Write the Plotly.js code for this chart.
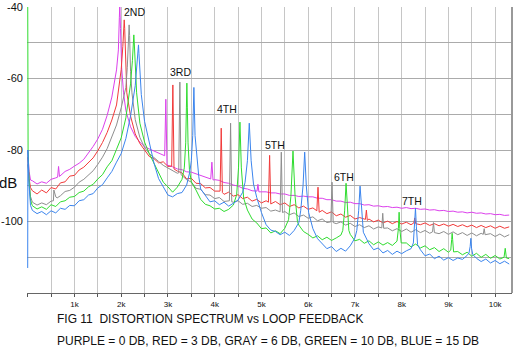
<!DOCTYPE html>
<html><head><meta charset="utf-8">
<script src="https://cdn.plot.ly/plotly-3.0.1.min.js"></script>
<style>html,body{margin:0;padding:0;background:#fff}#chart{width:520px;height:356px}</style>
</head><body><div id="chart"></div>
<script>
// Frequency grid (kHz) shared by all five spectra
const freqKHz = [
0.1,0.2,0.3,0.4,0.5,0.6,0.7,0.8,0.9,1.0,
1.1,1.2,1.3,1.4,1.5,1.6,1.7,1.8,1.9,2.0,
2.1,2.2,2.3,2.4,2.5,2.6,2.7,2.8,2.9,3.0,
3.1,3.2,3.3,3.4,3.5,3.6,3.7,3.8,3.9,4.0,
4.1,4.2,4.3,4.4,4.5,4.6,4.7,4.8,4.9,5.0,
5.1,5.2,5.3,5.4,5.5,5.6,5.7,5.8,5.9,6.0,
6.1,6.2,6.3,6.4,6.5,6.6,6.7,6.8,6.9,7.0,
7.1,7.2,7.3,7.4,7.5,7.6,7.7,7.8,7.9,8.0,
8.1,8.2,8.3,8.4,8.5,8.6,8.7,8.8,8.9,9.0,
9.1,9.2,9.3,9.4,9.5,9.6,9.7,9.8,9.9,10.0,
10.1,10.2,10.3];

// Spectrum floor levels (dB) on the grid
const purpleDb = [
-88.6,-89.5,-88.9,-89.3,-88.2,-87.8,-86.6,-86.0,-85.4,-84.5,
-83.7,-82.6,-80.9,-79.0,-76.9,-74.2,-70.3,-65.2,-57.6,-55.0,
-69.0,-73.5,-76.2,-77.8,-79.1,-79.7,-80.3,-80.9,-81.4,-84.3,
-84.7,-85.3,-85.5,-86.1,-86.2,-86.7,-87.0,-87.7,-88.0,-88.3,
-88.5,-89.1,-89.3,-89.8,-90.1,-90.7,-90.9,-91.4,-91.4,-91.7,
-91.7,-92.0,-92.0,-92.3,-92.3,-92.7,-92.7,-93.0,-92.9,-93.1,
-93.1,-93.5,-93.5,-93.9,-93.9,-94.3,-94.3,-94.7,-94.6,-95.0,
-95.0,-95.4,-95.3,-95.7,-95.6,-95.9,-95.8,-96.1,-96.0,-96.3,
-96.1,-96.4,-96.3,-96.6,-96.5,-96.8,-96.7,-97.0,-96.9,-97.2,
-97.1,-97.4,-97.3,-97.6,-97.4,-97.7,-97.6,-97.9,-97.8,-98.1,
-98.0,-98.3,-98.2];
const redDb = [
-91.4,-92.3,-91.2,-92.0,-90.5,-90.9,-89.2,-88.9,-87.3,-87.1,
-85.6,-84.8,-83.6,-82.2,-80.2,-77.9,-75.1,-71.6,-67.4,-57.5,
-62.0,-70.5,-75.5,-78.2,-80.0,-81.8,-82.4,-83.6,-83.3,-84.6,
-85.0,-85.9,-86.4,-88.1,-87.9,-89.3,-89.4,-90.6,-90.5,-91.5,
-91.3,-92.4,-91.8,-92.9,-92.5,-93.6,-93.2,-94.3,-93.8,-94.8,
-94.2,-95.0,-94.4,-95.3,-94.8,-95.8,-95.3,-96.2,-95.7,-96.6,
-96.2,-97.0,-96.9,-97.8,-97.3,-98.4,-97.9,-98.8,-98.3,-99.3,
-98.9,-99.7,-99.3,-100.1,-99.6,-100.4,-99.9,-100.6,-100.0,-100.7,
-100.2,-100.9,-100.3,-100.9,-100.4,-101.1,-100.6,-101.2,-100.7,-101.3,
-100.8,-101.4,-100.9,-101.5,-101.0,-101.7,-101.1,-101.7,-101.2,-101.9,
-101.3,-101.9,-101.5];
const grayDb = [
-94.6,-95.4,-94.8,-95.3,-94.3,-93.1,-92.8,-91.6,-91.3,-90.4,
-89.0,-88.2,-87.0,-85.8,-84.0,-82.0,-79.6,-76.5,-73.0,-68.2,
-62.5,-58.0,-71.5,-76.5,-79.3,-81.0,-82.0,-83.2,-84.3,-85.0,
-85.6,-86.5,-86.8,-88.3,-89.0,-90.7,-91.0,-92.5,-92.6,-93.6,
-93.3,-94.4,-94.0,-94.6,-94.2,-95.2,-94.9,-95.8,-95.5,-96.3,
-96.1,-97.1,-96.8,-97.4,-97.2,-98.1,-97.6,-98.6,-98.2,-99.1,
-98.7,-99.8,-99.3,-100.3,-100.0,-100.6,-100.1,-101.0,-100.5,-101.4,
-100.9,-101.7,-101.2,-102.1,-101.5,-101.9,-101.8,-102.6,-102.0,-102.8,
-102.1,-103.0,-102.3,-103.1,-102.5,-103.3,-103.0,-103.4,-102.8,-103.6,
-102.9,-103.7,-103.1,-103.9,-103.2,-104.0,-103.3,-103.7,-103.4,-104.2,
-103.5,-104.3,-103.7];
const greenDb = [
-95.6,-96.5,-95.9,-96.6,-95.3,-95.8,-94.5,-94.2,-93.2,-93.0,
-91.9,-91.5,-90.3,-89.6,-88.1,-86.9,-84.7,-83.0,-79.8,-76.6,
-71.0,-61.5,-62.0,-72.5,-77.8,-81.0,-83.6,-86.4,-89.0,-90.3,
-91.8,-90.4,-88.2,-75.0,-88.9,-91.2,-93.8,-95.2,-95.6,-96.5,
-96.3,-97.2,-96.6,-95.4,-88.0,-90.0,-96.8,-99.3,-100.4,-102.0,
-101.8,-103.2,-102.6,-103.4,-101.9,-99.0,-98.0,-101.0,-102.8,-103.6,
-104.6,-104.0,-105.1,-104.4,-105.3,-104.6,-103.8,-95.0,-103.6,-105.4,
-105.0,-106.1,-105.4,-106.5,-105.7,-106.6,-105.9,-106.7,-105.5,-105.8,
-106.0,-107.1,-106.3,-107.4,-106.8,-107.9,-107.3,-108.4,-107.6,-108.6,
-107.0,-108.4,-109.3,-108.6,-109.7,-108.9,-110.0,-109.2,-110.3,-109.5,
-110.5,-109.7,-110.4];
const blueDb = [
-96.9,-97.8,-97.2,-98.1,-97.0,-97.6,-96.3,-96.6,-95.5,-95.6,
-94.2,-93.9,-92.6,-92.2,-90.6,-89.7,-87.8,-86.0,-83.4,-81.0,
-76.8,-70.5,-62.0,-60.0,-72.0,-77.5,-83.6,-88.0,-90.4,-92.6,
-93.1,-92.2,-91.9,-89.8,-83.0,-83.0,-90.9,-92.7,-94.5,-94.2,
-95.3,-94.6,-95.7,-94.9,-94.0,-91.8,-80.0,-83.0,-93.3,-97.5,
-100.9,-102.4,-102.8,-103.7,-103.0,-103.9,-102.5,-100.3,-90.0,-95.0,
-102.0,-104.8,-106.3,-107.6,-107.0,-108.4,-107.5,-108.3,-106.8,-104.6,
-95.0,-103.0,-106.2,-107.9,-107.4,-108.8,-108.1,-109.2,-108.3,-109.0,
-108.2,-107.6,-100.0,-107.9,-109.6,-109.1,-110.4,-109.7,-110.8,-110.1,
-110.9,-110.2,-110.6,-109.5,-106.0,-110.3,-111.2,-110.5,-111.6,-110.9,
-111.8,-111.1,-111.9];

// Harmonic spikes and DC start of each spectrum (kHz, dB)
const purpleExtraF  = [0,0.03,0.06,0.64,0.66,0.68,1.94,1.96,1.97,1.985,2.01,2.05,2.93,2.955,2.98,3.915,3.94,3.965,4.905,4.925,4.945];
const purpleExtraDb = [-80,-86,-88.4,-87.6,-84.6,-87.4,-52,-43,-39.5,-46,-57,-64,-81.6,-65.8,-84.2,-88.1,-83.4,-88.4,-91.5,-89.6,-91.7];
const redExtraF  = [0,0.03,0.06,2.035,2.05,2.065,2.075,2.09,2.12,3.08,3.105,3.13,4.115,4.14,4.165,5.15,5.175,5.2,6.185,6.21,6.235,7.225,7.245,7.265,8.26,8.28,8.3];
const redExtraDb = [-82,-88,-90.5,-51,-47,-43.6,-46,-53,-64,-84.5,-61.8,-85.3,-91.5,-73.9,-91.9,-94.6,-81.5,-95.1,-97,-90.4,-97.4,-99.4,-96.8,-99.7,-100.4,-99,-100.6];
const grayExtraF  = [0,0.03,0.06,0.55,0.56,0.63,2.13,2.15,2.17,2.18,2.2,2.23,3.23,3.255,3.28,4.315,4.34,4.365,5.4,5.425,5.45,6.485,6.51,6.535,7.575,7.595,7.615,8.66,8.68,8.7,9.745,9.765,9.785];
const grayExtraDb = [-84,-89,-93,-94.2,-91.2,-93.4,-57,-50,-45,-48,-58,-64,-86.4,-61,-86.9,-94.2,-72.5,-94.5,-97.3,-80.6,-97.5,-100.1,-89,-100.3,-101.8,-97.7,-101.9,-102.9,-100.3,-103.1,-103.6,-102,-103.7];
const greenExtraF  = [0,0.008,0.03,0.06,2.24,2.255,2.27,2.28,2.3,2.33,3.35,3.38,3.395,3.405,3.415,3.43,3.46,4.47,4.51,4.54,4.57,4.62,5.58,5.63,5.675,5.72,5.77,6.74,6.78,6.81,6.84,6.87,7.9,7.93,7.945,7.96,7.99,9.05,9.07,9.08,9.09,9.11,10.19,10.215,10.24];
const greenExtraDb = [-35,-80,-89,-94,-55,-50,-47.8,-50,-58,-64,-85,-78,-68,-61.3,-68,-78,-85.5,-92.5,-85,-72.2,-85,-93.5,-99.5,-93,-80.3,-93,-100,-102.5,-97,-89.3,-97,-102.5,-105.5,-102,-97.4,-102,-106,-108,-105,-103.3,-105,-108.5,-110,-107.5,-110.2];
const blueExtraF  = [0,0.004,0.03,0.06,2.34,2.355,2.37,2.38,2.4,2.43,3.47,3.5,3.53,3.555,3.58,3.62,3.66,4.65,4.7,4.74,4.78,4.83,5.84,5.89,5.925,5.96,6.01,7.04,7.08,7.11,7.14,7.18,8.25,8.275,8.295,8.315,8.34,9.44,9.465,9.48,9.495,9.52];
const blueExtraDb = [-113,-80,-90,-95.5,-56,-52,-50.6,-53,-59,-64.5,-86,-83,-76,-62.5,-76,-83,-87.5,-89,-83,-72.5,-83,-89.5,-97,-90,-80.6,-90,-97.5,-102.5,-97,-90.1,-97,-103,-106,-101.5,-96.3,-101.5,-106.5,-108.8,-107,-104.7,-107.5,-109.2];

const xTickVals = [0,0.5,1,1.5,2,2.5,3,3.5,4,4.5,5,5.5,6,6.5,7,7.5,8,8.5,9,9.5,10];
const xTickText = ['','','1k','','2k','','3k','','4k','','5k','','6k','','7k','','8k','','9k','','10k'];
const yTickVals = [-40,-50,-60,-70,-80,-90,-100,-110];
const yTickText = ['-40','','-60','','-80','','-100',''];

const harmonicLabels = ['2ND','3RD','4TH','5TH','6TH','7TH'];
const harmonicLabelF  = [2.28,3.26,4.26,5.3,6.76,8.22];
const harmonicLabelDb = [-41.4,-58.2,-68.5,-78.6,-87.6,-94.4];

const captionLine1 = 'FIG 11  DISTORTION SPECTRUM vs LOOP FEEDBACK';
const captionLine2 = 'PURPLE = 0 DB, RED = 3 DB, GRAY = 6 DB, GREEN = 10 DB, BLUE = 15 DB';

function merge(gridF, gridDb, exF, exDb) {
  const pts = [];
  gridF.forEach((f, i) => {
    if (!exF.some(e => Math.abs(e - f) < 0.028)) pts.push([f, gridDb[i]]);
  });
  exF.forEach((f, i) => pts.push([f, exDb[i]]));
  pts.sort((a, b) => a[0] - b[0]);
  return {x: pts.map(p => p[0]), y: pts.map(p => p[1])};
}

const series = [
  {db: purpleDb, ef: purpleExtraF, ed: purpleExtraDb, color: '#dc40ec'},
  {db: redDb,    ef: redExtraF,    ed: redExtraDb,    color: '#f23a3a'},
  {db: grayDb,   ef: grayExtraF,   ed: grayExtraDb,   color: '#8e8e8e'},
  {db: greenDb,  ef: greenExtraF,  ed: greenExtraDb,  color: '#2fdc2f'},
  {db: blueDb,   ef: blueExtraF,   ed: blueExtraDb,   color: '#3b85ee'}
];

const traces = series.map(s => {
  const m = merge(freqKHz, s.db, s.ef, s.ed);
  return {x: m.x, y: m.y, type: 'scatter', mode: 'lines',
          line: {color: s.color, width: 1}, hoverinfo: 'skip'};
});

const font = 'Liberation Sans, Arial, sans-serif';
const annotations = harmonicLabels.map((t, i) => ({
  x: harmonicLabelF[i], y: harmonicLabelDb[i], xref: 'x', yref: 'y',
  xanchor: 'center', yanchor: 'middle',
  text: t, showarrow: false, font: {family: font, size: 10.5, color: '#111'}
}));
annotations.push({x: -0.04, y: 0.385, xref: 'paper', yref: 'paper', xanchor: 'center', yanchor: 'middle',
  text: 'dB', showarrow: false, font: {family: font, size: 15, color: '#111'}});
annotations.push({x: 0.0577, y: -0.091, xref: 'paper', yref: 'paper', xanchor: 'left', yanchor: 'middle',
  text: captionLine1, showarrow: false, font: {family: font, size: 12, color: '#111'}});
annotations.push({x: 0.0577, y: -0.168, xref: 'paper', yref: 'paper', xanchor: 'left', yanchor: 'middle',
  text: captionLine2, showarrow: false, font: {family: font, size: 12, color: '#111'}});

const layout = {
  width: 520, height: 356,
  margin: {l: 27, r: 8, t: 7, b: 63},
  paper_bgcolor: '#fff', plot_bgcolor: '#fff',
  showlegend: false,
  xaxis: {range: [-0.015, 10.36], tickvals: xTickVals, ticktext: xTickText,
    ticks: 'outside', ticklen: 3, tickcolor: '#555', showline: true, linecolor: '#666', linewidth: 1,
    showgrid: true, gridcolor: '#c6c6c6', gridwidth: 1, zeroline: false,
    tickfont: {family: font, size: 8, color: '#111'}},
  yaxis: {range: [-120, -40], tickvals: yTickVals, ticktext: yTickText,
    ticks: '', showline: false, showgrid: true, gridcolor: '#ababab', gridwidth: 1, zeroline: false,
    ticklabelstandoff: 3,
    tickfont: {family: font, size: 11, color: '#111'}},
  shapes: [{type: 'line', xref: 'paper', yref: 'paper', x0: 1, x1: 1, y0: 0, y1: 1,
    line: {color: '#999', width: 2}}],
  annotations: annotations
};

Plotly.newPlot('chart', traces, layout, {staticPlot: true, displayModeBar: false});
</script>
</body></html>
